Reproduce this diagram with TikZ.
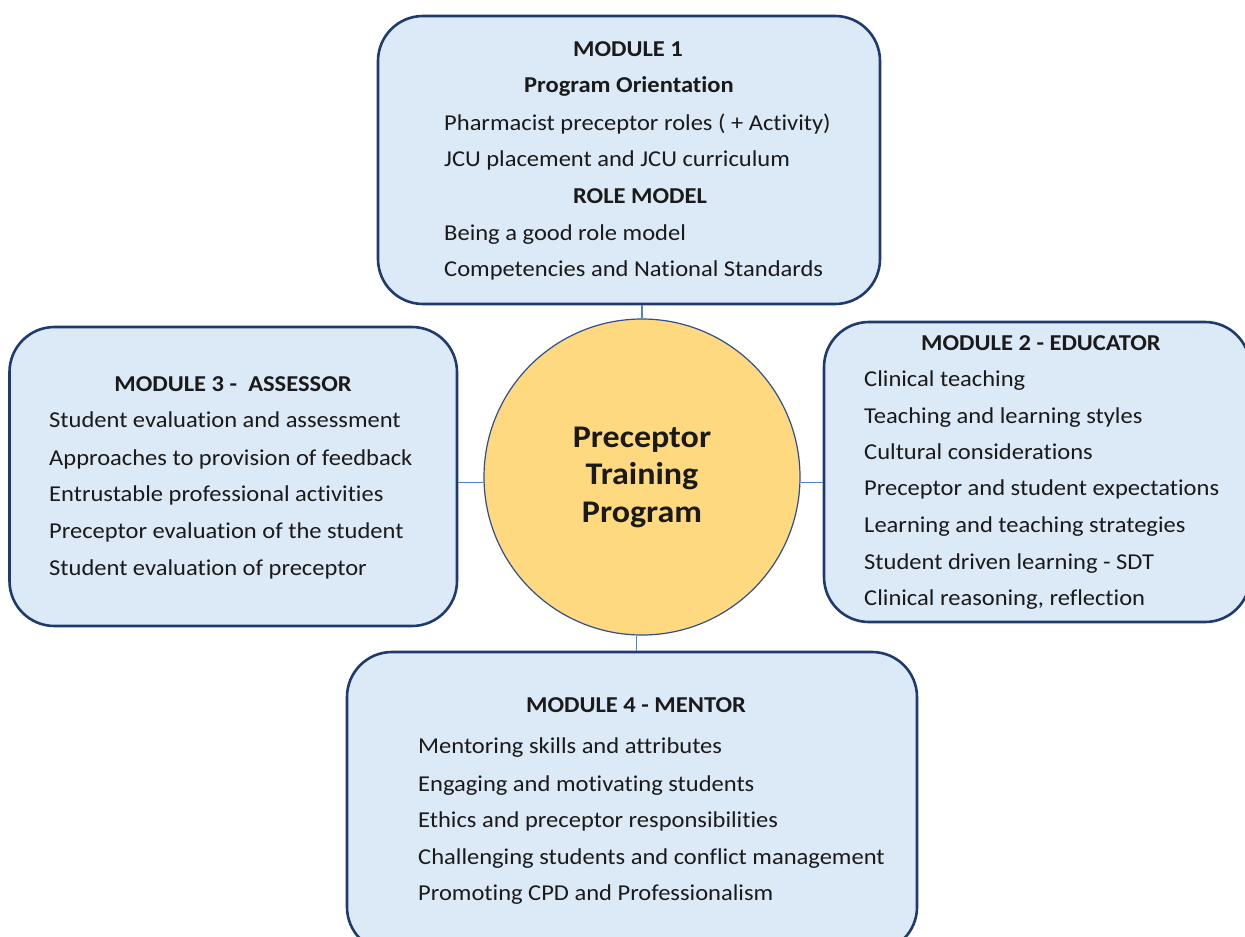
\documentclass[tikz,border=0pt]{standalone}
\usepackage{fontspec}
\setmainfont[Ligatures=NoCommon, FakeStretch=1.08]{Carlito}
\definecolor{boxfill}{HTML}{DCE9F6}
\definecolor{boxline}{HTML}{1F3A6E}
\definecolor{hubfill}{HTML}{FFD97F}
\definecolor{hubline}{HTML}{2F4F8F}
\definecolor{linkline}{HTML}{4A86C8}
\definecolor{ink}{HTML}{1A1A1A}
\tikzset{
  modbox/.style={draw=boxline, line width=2.6pt, fill=boxfill, rounded corners=45pt, inner sep=0pt},
  hub/.style={circle, draw=hubline, line width=1.2pt, fill=hubfill, inner sep=0pt, minimum size=316pt,
    font=\fontsize{31.5}{37.5}\selectfont\bfseries, text=ink, align=center},
  link/.style={draw=linkline, line width=1.3pt},
  head/.style={anchor=base, inner sep=0pt, text=ink, font=\fontsize{22.7}{27}\selectfont\bfseries},
  item/.style={anchor=base west, inner sep=0pt, text=ink, font=\fontsize{22.7}{27}\selectfont}
}
\begin{document}
\begin{tikzpicture}[x=1pt, y=-1pt]
\useasboundingbox (0,0) rectangle (1245,937);
\clip (0,0) rectangle (1245,937);
\fill[white] (0,0) rectangle (1245,937);

% module boxes
\node[modbox, minimum width=502pt, minimum height=288pt] (m1) at (629,160) {};
\node[modbox, minimum width=426pt, minimum height=300pt] (m2) at (1037,472) {};
\node[modbox, minimum width=447.5pt, minimum height=299pt] (m3) at (233.25,476.5) {};
\node[modbox, minimum width=570pt, minimum height=300pt] (m4) at (632,802) {};

% central hub
\node[hub] (hub) at (642,477) {Preceptor\\Training\\Program};

% connectors from the hub to each module
\draw[link] (hub.90) -- (hub.90 |- m1.south);
\draw[link] (hub.182.5) -- (hub.182.5 -| m3.east);
\draw[link] (hub.-2.2) -- (hub.-2.2 -| m2.west);
\draw[link] (hub.268.2) -- (hub.268.2 |- m4.north);

% module 1
\node[head] (m1h1) at (628,56.7) {MODULE 1};
\node[head] (m1h2) at (629,92.7) {Program Orientation};
\node[item] (m1a) at (444,130.7) {Pharmacist preceptor roles ( + Activity)};
\node[item] (m1b) at (444,166.7) {JCU placement and JCU curriculum};
\node[head] (m1h3) at (640,203) {ROLE MODEL};
\node[item] (m1c) at (444,240) {Being a good role model};
\node[item] (m1d) at (444,276.7) {Competencies and National Standards};

% module 2
\node[head] (m2h) at (1041,350) {MODULE 2 - EDUCATOR};
\node[item] (m2a) at (864,386.7) {Clinical teaching};
\node[item] (m2b) at (864,423.3) {Teaching and learning styles};
\node[item] (m2c) at (864,459.3) {Cultural considerations};
\node[item] (m2d) at (864,495.3) {Preceptor and student expectations};
\node[item] (m2e) at (864,532.7) {Learning and teaching strategies};
\node[item] (m2f) at (864,569.3) {Student driven learning - SDT};
\node[item] (m2g) at (864,605.7) {Clinical reasoning, reflection};

% module 3
\node[head] (m3h) at (233,391) {MODULE 3 -\ \ ASSESSOR};
\node[item] (m3a) at (49,427.3) {Student evaluation and assessment};
\node[item] (m3b) at (49,465) {Approaches to provision of feedback};
\node[item] (m3c) at (49,501.7) {Entrustable professional activities};
\node[item] (m3d) at (49,538.3) {Preceptor evaluation of the student};
\node[item] (m3e) at (49,575) {Student evaluation of preceptor};

% module 4
\node[head] (m4h) at (636,712.7) {MODULE 4 - MENTOR};
\node[item] (m4a) at (418,753) {Mentoring skills and attributes};
\node[item] (m4b) at (418,791) {Engaging and motivating students};
\node[item] (m4c) at (418,827) {Ethics and preceptor responsibilities};
\node[item] (m4d) at (418,864) {Challenging students and conflict management};
\node[item] (m4e) at (418,900) {Promoting CPD and Professionalism};
\end{tikzpicture}
\end{document}
